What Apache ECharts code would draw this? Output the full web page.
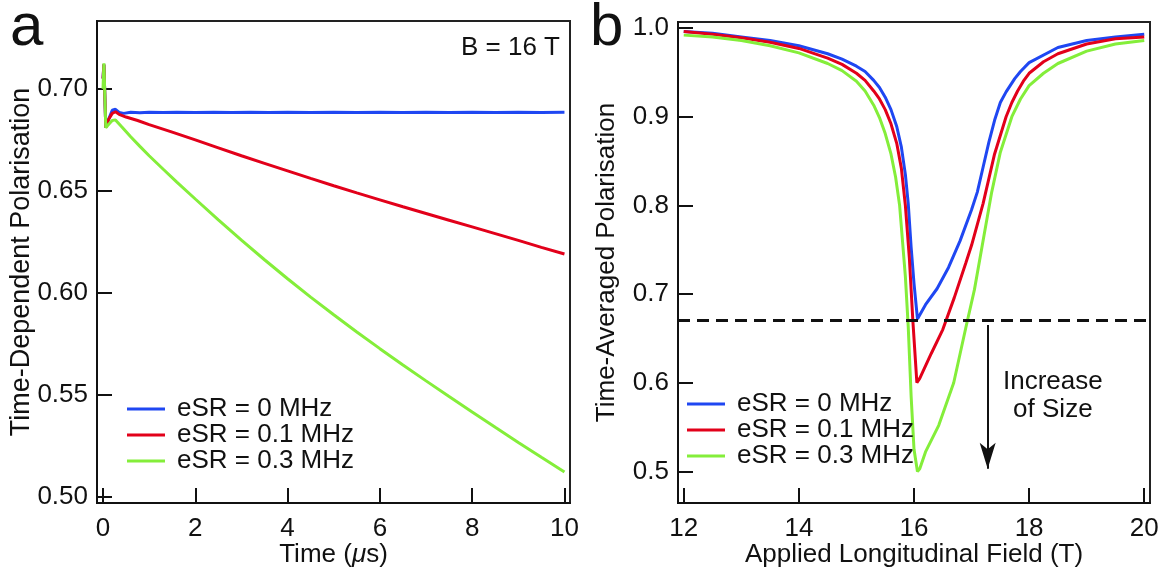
<!DOCTYPE html>
<html>
<head>
<meta charset="utf-8">
<script src="https://cdn.jsdelivr.net/npm/echarts@6/dist/echarts.min.js"></script>
<style>
html,body{margin:0;padding:0;background:#fff;}
#chart{width:1175px;height:569px;}
</style>
</head>
<body>
<div id="chart"></div>
<script>
// ---------- data ----------
const seriesNames = ['eSR = 0 MHz', 'eSR = 0.1 MHz', 'eSR = 0.3 MHz'];
const colors = ['#1f47f2', '#e2001a', '#84ee3a'];

// Panel a: time (us) vs time-dependent polarisation
const timeBlue = [[0,0.705],[0.02,0.712],[0.06,0.681],[0.12,0.685],[0.2,0.6895],[0.27,0.690],[0.35,0.6885],[0.45,0.6880],[0.6,0.6885],[0.8,0.6883],[1,0.6886],[1.3,0.6884],[1.6,0.6886],[2,0.6884],[2.4,0.6886],[2.8,0.6884],[3.2,0.6886],[3.6,0.6884],[4,0.6886],[4.5,0.6884],[5,0.6886],[5.5,0.6884],[6,0.6886],[6.5,0.6884],[7,0.6886],[7.5,0.6884],[8,0.6886],[8.5,0.6884],[9,0.6886],[9.5,0.6884],[10,0.6885]];
const timeRed = [[0,0.705],[0.02,0.712],[0.06,0.681],[0.12,0.685],[0.2,0.688],[0.27,0.6888],[0.35,0.6875],[0.5,0.6862],[0.75,0.6845],[1,0.6825],[1.5,0.6788],[2,0.6750],[2.5,0.6711],[3,0.6672],[3.5,0.6635],[4,0.6598],[4.5,0.6561],[5,0.6525],[5.5,0.6490],[6,0.6456],[6.5,0.6422],[7,0.6389],[7.5,0.6356],[8,0.6323],[8.5,0.6290],[9,0.6257],[9.5,0.6223],[10,0.6190]];
const timeGreen = [[0,0.700],[0.02,0.7125],[0.06,0.681],[0.12,0.6825],[0.2,0.6845],[0.27,0.6848],[0.4,0.6815],[0.6,0.6765],[0.8,0.6718],[1,0.6672],[1.3,0.6607],[1.6,0.6543],[2,0.6460],[2.5,0.6358],[3,0.6258],[3.5,0.6162],[4,0.6069],[4.5,0.5979],[5,0.5892],[5.5,0.5808],[6,0.5726],[6.5,0.5646],[7,0.5568],[7.5,0.5491],[8,0.5415],[8.5,0.5340],[9,0.5266],[9.5,0.5193],[10,0.5121]];

// Panel b: applied field (T) vs time-averaged polarisation
const fieldBlue = [[12,0.996],[12.5,0.994],[13,0.990],[13.5,0.986],[14,0.980],[14.5,0.971],[14.75,0.965],[15,0.957],[15.15,0.951],[15.3,0.941],[15.4,0.933],[15.5,0.922],[15.6,0.908],[15.7,0.889],[15.78,0.866],[15.85,0.835],[15.9,0.802],[15.95,0.753],[16.0,0.712],[16.06,0.672],[16.2,0.688],[16.4,0.706],[16.6,0.730],[16.8,0.760],[17.0,0.795],[17.1,0.815],[17.2,0.843],[17.3,0.871],[17.4,0.896],[17.5,0.916],[17.6,0.928],[17.75,0.943],[17.85,0.951],[18,0.961],[18.5,0.978],[19,0.986],[19.5,0.990],[20,0.993]];
const fieldRed = [[12,0.996],[12.5,0.993],[13,0.989],[13.5,0.984],[14,0.977],[14.5,0.966],[14.75,0.959],[15,0.949],[15.15,0.941],[15.3,0.929],[15.4,0.920],[15.5,0.908],[15.6,0.892],[15.7,0.870],[15.78,0.842],[15.85,0.80],[15.92,0.74],[15.98,0.67],[16.05,0.600],[16.1,0.605],[16.3,0.633],[16.5,0.660],[16.7,0.696],[16.9,0.735],[17.0,0.755],[17.2,0.802],[17.4,0.858],[17.6,0.900],[17.7,0.916],[17.8,0.929],[17.9,0.940],[18,0.949],[18.25,0.962],[18.5,0.971],[19,0.982],[19.5,0.988],[20,0.990]];
const fieldGreen = [[12,0.992],[12.5,0.990],[13,0.986],[13.5,0.980],[14,0.972],[14.5,0.960],[14.75,0.952],[15,0.940],[15.15,0.929],[15.3,0.913],[15.4,0.899],[15.5,0.881],[15.6,0.858],[15.68,0.832],[15.75,0.800],[15.85,0.720],[15.9,0.663],[15.95,0.585],[16.0,0.525],[16.06,0.500],[16.1,0.503],[16.2,0.522],[16.43,0.552],[16.69,0.600],[16.9,0.662],[17.05,0.705],[17.2,0.760],[17.35,0.815],[17.5,0.860],[17.7,0.900],[17.85,0.920],[18,0.935],[18.25,0.949],[18.5,0.960],[19,0.974],[19.5,0.982],[20,0.986]];

const dashLevel = 0.673;
const arrowField = 17.28;
const arrowFrom = 0.665;
const arrowTo = 0.503;

const ticksTime = [0, 2, 4, 6, 8, 10];
const ticksPolA = [0.50, 0.55, 0.60, 0.65, 0.70];
const ticksField = [12, 14, 16, 18, 20];
const ticksPolB = [0.5, 0.6, 0.7, 0.8, 0.9, 1.0];

// ---------- chart ----------
const FONT = '"Liberation Sans", Arial, Helvetica, sans-serif';
const INK = '#111';
const chart = echarts.init(document.getElementById('chart'), null, {renderer: 'canvas'});

function axisCommon(ticks, digits, labelMargin) {
  return {
    axisLine: {show: true, onZero: false, lineStyle: {color: INK, width: 2}},
    axisTick: {show: true, inside: true, length: 15, lineStyle: {color: INK, width: 2}, customValues: ticks},
    axisLabel: {show: true, customValues: ticks, color: INK, fontFamily: FONT, fontSize: 26, margin: labelMargin,
      formatter: v => (digits === 0 ? String(Math.round(v)) : Number(v).toFixed(digits))},
    splitLine: {show: false},
    nameMoveOverlap: false,
    nameTextStyle: {color: INK, fontFamily: FONT, fontSize: 26}
  };
}

function lineSeries(name, data, color, xi) {
  return {
    type: 'line', name: name, data: data, xAxisIndex: xi, yAxisIndex: xi,
    showSymbol: false, symbol: 'none', smooth: false, animation: false,
    lineStyle: {color: color, width: 3}, itemStyle: {color: color}, z: 3
  };
}

const legendText = {color: INK, fontFamily: FONT, fontSize: 26, lineHeight: 24, padding: [0, 0, 0, 7]};

const option = {
  backgroundColor: '#fff',
  animation: false,
  grid: [
    {left: 97, top: 21, width: 473, height: 482, show: true, borderColor: '#222', borderWidth: 2,
     containLabel: false, outerBoundsMode: 'none'},
    {left: 678, top: 22, width: 472, height: 481, show: true, borderColor: '#222', borderWidth: 2,
     containLabel: false, outerBoundsMode: 'none'}
  ],
  xAxis: [
    Object.assign(axisCommon(ticksTime, 0, 13), {
      type: 'value', gridIndex: 0, min: -0.13, max: 10.12,
      name: 'Time ({i|μ}s)', nameLocation: 'middle', nameGap: 39,
      nameTextStyle: {color: INK, fontFamily: FONT, fontSize: 26, rich: {i: {fontStyle: 'italic', fontFamily: FONT, fontSize: 26, color: INK}}}
    }),
    Object.assign(axisCommon(ticksField, 0, 13), {
      type: 'value', gridIndex: 1, min: 11.9, max: 20.1,
      name: 'Applied Longitudinal Field (T)', nameLocation: 'middle', nameGap: 39
    })
  ],
  yAxis: [
    Object.assign(axisCommon(ticksPolA, 2, 9), {
      type: 'value', gridIndex: 0, min: 0.4969, max: 0.7333,
      name: 'Time-Dependent Polarisation', nameLocation: 'middle', nameGap: 62,
      nameTextStyle: {color: INK, fontFamily: FONT, fontSize: 27}
    }),
    Object.assign(axisCommon(ticksPolB, 1, 9), {
      type: 'value', gridIndex: 1, min: 0.4644, max: 1.0068,
      name: 'Time-Averaged Polarisation', nameLocation: 'middle', nameGap: 58
    })
  ],
  legend: [
    {orient: 'vertical', left: 127, top: 396, padding: 0, itemWidth: 38, itemHeight: 3, itemGap: 0, icon: 'rect',
     data: seriesNames, selectedMode: false, textStyle: legendText},
    {orient: 'vertical', left: 687, top: 391, padding: 0, itemWidth: 38, itemHeight: 3, itemGap: 0, icon: 'rect',
     data: seriesNames, selectedMode: false, textStyle: legendText}
  ],
  series: [
    lineSeries(seriesNames[0], timeBlue, colors[0], 0),
    lineSeries(seriesNames[1], timeRed, colors[1], 0),
    lineSeries(seriesNames[2], timeGreen, colors[2], 0),
    lineSeries(seriesNames[0], fieldBlue, colors[0], 1),
    lineSeries(seriesNames[1], fieldRed, colors[1], 1),
    Object.assign(lineSeries(seriesNames[2], fieldGreen, colors[2], 1), {
      markLine: {
        silent: true, animation: false, label: {show: false},
        symbol: ['none', 'none'],
        lineStyle: {color: '#111', type: [12, 7], width: 3},
        data: [{yAxis: dashLevel}]
      }
    }),
    {
      type: 'line', xAxisIndex: 1, yAxisIndex: 1, data: [], name: 'arrow',
      markLine: {
        silent: true, animation: false, label: {show: false},
        symbol: ['none', 'arrow'], symbolSize: [12, 26],
        lineStyle: {color: '#111', type: 'solid', width: 2},
        data: [[{coord: [arrowField, arrowFrom]}, {coord: [arrowField, arrowTo]}]]
      }
    }
  ],
  graphic: [
    {type: 'text', left: 10, top: -2, style: {text: 'a', font: '60px ' + FONT, fill: INK}},
    {type: 'text', left: 590, top: -2, style: {text: 'b', font: '60px ' + FONT, fill: INK}},
    {type: 'text', right: 615, top: 35, style: {text: 'B = 16 T', font: '26px ' + FONT, fill: INK}},
    {type: 'text', left: 1003, top: 368, style: {text: 'Increase\nof Size', font: '26px ' + FONT, fill: INK, textAlign: 'center', lineHeight: 28}}
  ]
};
chart.setOption(option);
</script>
</body>
</html>
